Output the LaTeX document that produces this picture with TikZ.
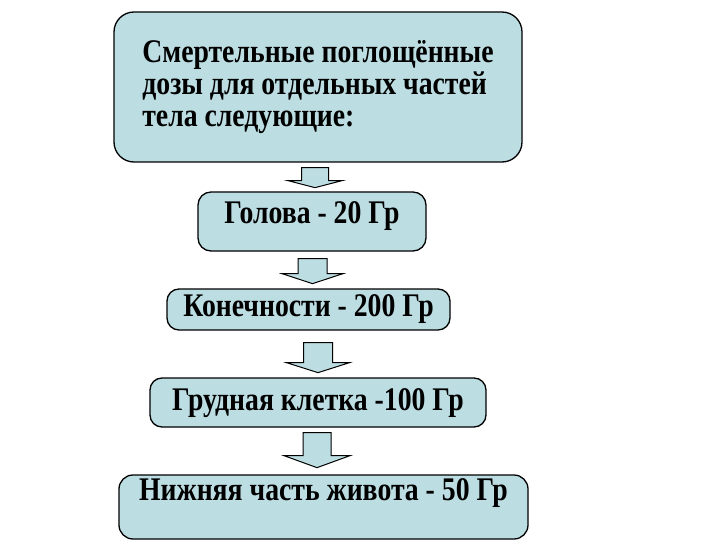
\documentclass[tikz,border=0pt]{standalone}
\usepackage{fontspec}
\setmainfont{Liberation Serif}[FakeStretch=0.84]
\usepackage{xcolor}
\usetikzlibrary{calc}

\definecolor{boxblue}{RGB}{188,222,227}

% block arrow hanging below a node: node, dx, gap, shaft length, tip, shaft half, head half
\newcommand{\blockarrow}[7]{%
    \draw[arrowbox] ($(#1.south)+(#2,#3)$) coordinate (t)
        ($(t)+(-#6,0)$) -- ($(t)+(#6,0)$) -- ($(t)+(#6,#4)$) -- ($(t)+(#7,#4)$)
        -- ($(t)+(0,#5)$) -- ($(t)+(-#7,#4)$) -- ($(t)+(-#6,#4)$) -- cycle;}

\begin{document}
\begin{tikzpicture}[x=1pt, y=-1pt,
        arrowbox/.style={draw=black, fill=boxblue, line width=1pt, line join=miter}]
        \useasboundingbox (0,0) rectangle (720,540);

        \begin{scope}[every node/.style = {rectangle, draw=black, fill=boxblue,
                line width=1.3pt, inner sep=0pt,
                font=\fontsize{33}{32}\selectfont\bfseries}]
            \node[rounded corners=20pt, minimum width=408, minimum height=150, align=left]
                (intro) at (318, 87) {Смертельные поглощённые\\дозы для отдельных частей\\тела следующие:};

            \node[rounded corners=13pt, minimum width=228, minimum height=59,
                text height=22pt, text depth=19pt] (head) at (312, 221.5) {Голова - 20 Гр};
            \node[rounded corners=12pt, minimum width=283, minimum height=41,
                text height=22pt, text depth=9pt] (limbs) at (308.5, 309.5) {Конечности - 200 Гр};
            \node[rounded corners=12pt, minimum width=336, minimum height=49,
                text height=22pt, text depth=7pt] (chest) at (318, 402.5) {Грудная клетка -100 Гр};
            \node[rounded corners=14pt, minimum width=409, minimum height=64,
                text height=22pt, text depth=36pt] (belly) at (323.5, 507) {Нижняя часть живота - 50 Гр};
        \end{scope}

        \blockarrow{intro}{-3}{5}{13}{20}{13.5}{27}
        \blockarrow{head}{0.5}{7}{15}{25}{14.5}{30.5}
        \blockarrow{limbs}{9.5}{12}{20}{30}{14.5}{31.5}
        \blockarrow{chest}{-1}{5}{23}{35}{14}{33}
    \end{tikzpicture}
\end{document}
